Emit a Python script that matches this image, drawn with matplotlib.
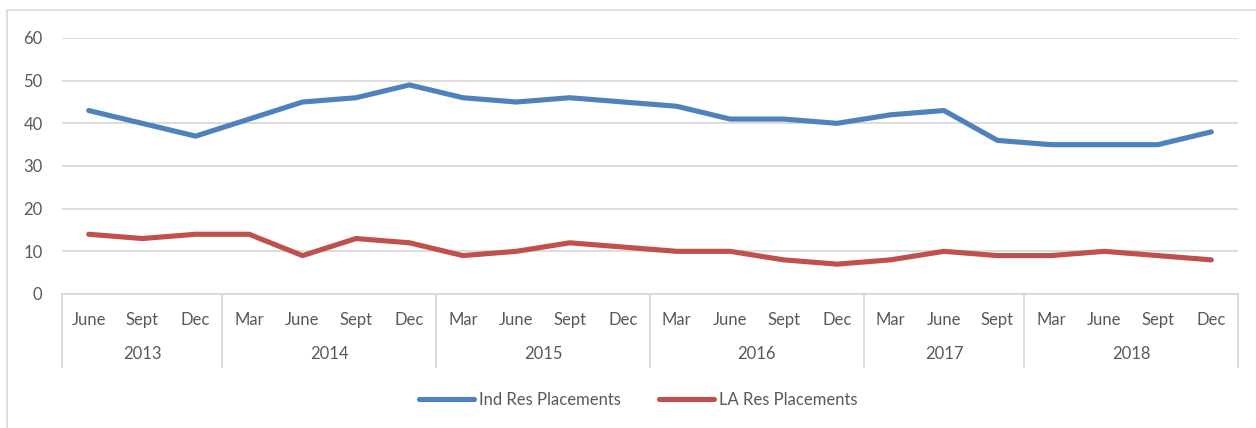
import matplotlib
matplotlib.use("Agg")
import matplotlib.pyplot as plt
from matplotlib.patches import Rectangle
import matplotlib.transforms as mtransforms

years = ["2013", "2014", "2015", "2016", "2017", "2018"]
months_per_year = [
    ["June", "Sept", "Dec"],
    ["Mar", "June", "Sept", "Dec"],
    ["Mar", "June", "Sept", "Dec"],
    ["Mar", "June", "Sept", "Dec"],
    ["Mar", "June", "Sept"],
    ["Mar", "June", "Sept", "Dec"],
]
ind_res = [43, 40, 37, 41, 45, 46, 49, 46, 45, 46, 45, 44, 41, 41, 40, 42, 43, 36, 35, 35, 35, 38]
la_res = [14, 13, 14, 14, 9, 13, 12, 9, 10, 12, 11, 10, 10, 8, 7, 8, 10, 9, 9, 10, 9, 8]
y_ticks = [0, 10, 20, 30, 40, 50, 60]

plt.rcParams['font.family'] = ['Lato', 'DejaVu Sans']
txt = '#595959'
grid_c = '#d9d9d9'
fs = 12

W, H = 1256, 428
fig = plt.figure(figsize=(W / 100, H / 100), dpi=100)
fig.patches.append(Rectangle((7 / W, -0.1), 1.2, 1 - 10 / H + 0.1, transform=fig.transFigure,
                             fill=False, edgecolor=grid_c, linewidth=1.2))

ax = fig.add_axes([62 / W, 1 - 294 / H, (1238 - 62) / W, (294 - 38) / H])

labels = [m for ms in months_per_year for m in ms]
x = list(range(len(labels)))

ax.plot(x, ind_res, color='#4f81bd', linewidth=3.7, solid_capstyle='round', label='Ind Res Placements')
ax.plot(x, la_res, color='#c0504d', linewidth=3.7, solid_capstyle='round', label='LA Res Placements')

ax.set_xlim(-0.5, len(labels) - 0.5)
ax.set_ylim(0, 60)
ax.set_yticks(y_ticks)
ax.yaxis.grid(True, color=grid_c, linewidth=1.3)
ax.set_axisbelow(True)
for s in ['top', 'right', 'left']:
    ax.spines[s].set_visible(False)
ax.spines['bottom'].set_color(grid_c)
ax.spines['bottom'].set_linewidth(1.3)
ax.tick_params(axis='y', length=0, pad=14, labelsize=fs, labelcolor=txt)
ax.set_xticks(x)
ax.set_xticklabels(labels)
ax.tick_params(axis='x', length=0, pad=13, labelsize=fs, labelcolor=txt)

trans = mtransforms.blended_transform_factory(ax.transData, ax.transAxes)
bounds = [-0.5]
for ms in months_per_year:
    bounds.append(bounds[-1] + len(ms))
for b in bounds:
    ax.plot([b, b], [0, -73 / 256], transform=trans, color=grid_c, linewidth=1.3, clip_on=False)
for i, yr in enumerate(years):
    c = (bounds[i] + bounds[i + 1]) / 2
    ax.text(c, -60 / 256, yr, transform=trans, ha='center', va='center', fontsize=fs, color=txt)

fig.legend(loc='center', bbox_to_anchor=(0.508, 1 - 400 / H), ncol=2, frameon=False,
           fontsize=fs, labelcolor=txt, handlelength=3.3, handletextpad=0.3, columnspacing=2.3)

fig.savefig('out.png', dpi=100)
